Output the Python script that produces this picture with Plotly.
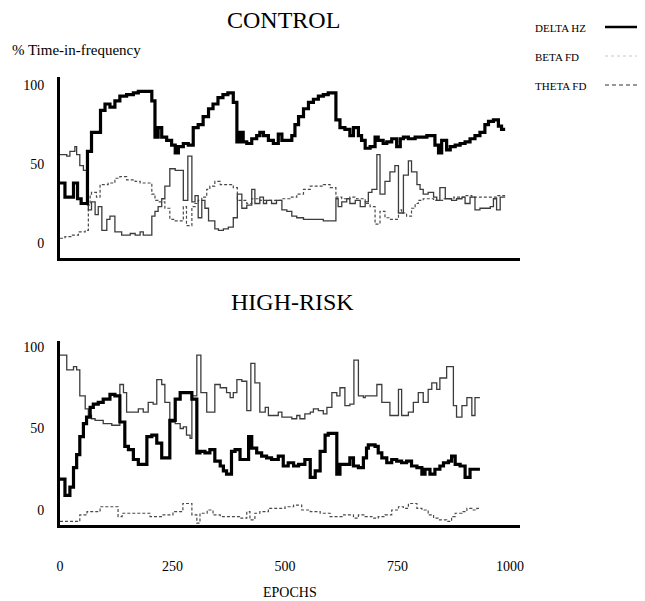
import plotly.graph_objects as go

# ---------------- data (epoch, % time-in-frequency) ----------------
EPOCH_TICKS = [0, 250, 500, 750, 1000]
PCT_TICKS = [0, 50, 100]
PANEL_TITLES = ["CONTROL", "HIGH-RISK"]
SERIES_NAMES = ["DELTA HZ", "BETA FD", "THETA FD"]

CONTROL_END = 989
HIGHRISK_END = 933

CONTROL_DELTA = [(0,38),(11,29),(30,38),(39,28),(47,25),(61,58),(70,70),(90,84),(100,88),(111,86),
    (122,90),(133,93),(148,94),(163,95),(174,96),(204,90),(211,67),(218,73),(226,67),(237,65),
    (248,62),(256,57),(263,61),(274,63),(285,62),(296,73),(307,75),(318,80),(330,85),(340,88),
    (351,92),(362,94),(373,95),(385,89),(393,64),(400,70),(407,64),(415,63),(426,66),(437,68),
    (444,70),(452,68),(463,65),(474,63),(485,69),(493,65),(515,68),(522,75),(530,80),(541,85),
    (552,89),(563,91),(574,93),(585,94),(596,95),(613,78),(622,73),(633,72),(644,68),(652,73),
    (663,68),(670,65),(678,60),(689,61),(700,67),(707,65),(718,63),(726,64),(737,66),(748,61),
    (756,66),(763,67),(774,66),(789,67),(815,68),(833,62),(841,57),(848,65),(859,59),(867,61),
    (878,62),(889,63),(900,64),(911,66),(922,68),(933,70),(944,75),(952,77),(963,78),(974,74),
    (981,72)]

CONTROL_BETA = [(0,56),(15,55),(22,58),(33,61),(37,56),(44,49),(52,46),(61,24),(63,21),(70,26),
    (78,18),(85,23),(93,8),(104,15),(111,17),(122,7),(137,5),(156,6),(167,5),(178,7),(185,5),
    (204,17),(211,20),(218,23),(226,28),(233,36),(244,47),(256,46),(274,27),(284,55),(293,26),
    (300,30),(307,16),(315,27),(322,22),(330,14),(344,9),(352,8),(363,9),(374,10),(385,16),
    (394,31),(404,22),(415,24),(426,34),(433,25),(444,29),(452,25),(459,27),(470,25),(481,27),
    (493,21),(504,20),(515,17),(526,16),(541,15),(556,15),(585,14),(613,28),(618,23),(626,26),
    (637,28),(644,25),(656,27),(667,23),(678,26),(685,32),(693,34),(704,56),(711,31),(722,39),
    (733,45),(744,49),(752,19),(763,43),(774,52),(781,45),(793,37),(800,34),(807,31),(818,32),
    (830,29),(837,27),(844,35),(856,28),(870,27),(881,28),(893,29),(900,25),(911,29),(922,21),
    (933,22),(956,23),(963,28),(970,21),(978,29)]

CONTROL_THETA = [(0,3),(11,4),(26,5),(41,7),(56,8),(63,24),(67,31),(70,32),(81,29),(89,37),
    (107,38),(122,41),(133,42),(148,40),(167,39),(178,38),(204,31),(211,27),(218,26),(233,22),
    (244,15),(256,14),(274,23),(281,11),(293,23),(300,25),(307,27),(315,29),(326,34),(333,36),
    (344,39),(356,37),(374,37),(385,35),(394,27),(415,25),(426,28),(444,27),(459,27),(493,28),
    (511,29),(526,31),(541,34),(556,36),(585,37),(600,35),(613,29),(626,28),(644,29),(659,28),
    (678,25),(689,23),(700,12),(711,20),(722,16),(733,15),(752,21),(759,19),(770,17),(781,22),
    (789,25),(796,27),(807,28),(830,27),(850,28),(875,29),(900,30),(915,29),(956,29),(970,30)]

HIGHRISK_DELTA = [(0,19),(11,9),(22,14),(30,26),(37,34),(44,45),(52,53),(59,57),(67,63),(74,65),
    (85,66),(96,68),(111,71),(122,70),(133,54),(144,39),(152,37),(163,31),(174,28),(193,45),
    (204,46),(215,41),(226,32),(244,55),(256,68),(267,72),(293,68),(304,35),(311,36),(322,35),
    (333,37),(344,30),(356,27),(363,24),(370,22),(381,36),(389,37),(400,31),(419,45),(426,38),
    (437,35),(448,33),(459,32),(470,31),(485,33),(496,27),(507,29),(519,27),(530,28),(544,31),
    (556,20),(567,24),(578,36),(589,46),(596,47),(615,22),(622,28),(644,32),(652,27),(663,26),
    (674,32),(681,38),(685,40),(700,39),(707,35),(715,32),(726,29),(737,31),(748,30),(759,29),
    (770,30),(781,27),(793,26),(804,22),(811,25),(822,22),(833,25),(844,27),(852,29),(863,30),
    (870,33),(878,28),(889,27),(900,20),(911,25)]

HIGHRISK_BETA = [(0,95),(15,86),(30,88),(37,86),(44,70),(56,62),(63,58),(70,56),(78,55),(96,53),
    (115,52),(133,77),(141,72),(148,60),(174,62),(185,60),(196,66),(207,65),(215,80),(226,77),
    (233,66),(244,54),(256,53),(267,50),(274,51),(281,46),(289,44),(293,70),(304,95),(313,72),
    (326,60),(344,77),(356,75),(370,72),(378,69),(385,72),(393,80),(404,79),(415,61),(424,90),
    (433,78),(444,60),(456,63),(463,58),(474,58),(485,60),(493,57),(515,56),(526,58),(533,56),
    (544,59),(556,60),(563,62),(574,61),(585,59),(593,63),(604,72),(615,70),(622,75),(633,64),
    (644,65),(653,92),(663,70),(674,69),(678,70),(704,77),(715,66),(733,58),(752,74),(759,58),
    (774,60),(785,66),(796,72),(807,66),(818,74),(826,78),(837,74),(844,81),(859,88),(874,64),
    (881,57),(893,64),(904,69),(915,58),(922,69)]

HIGHRISK_THETA = [(0,-7),(44,-3),(60,-1),(89,2),(129,-4),(138,-2),(200,-4),(229,-3),(251,-1),
    (273,4),(293,-3),(304,-8),(311,-2),(327,0),(340,-3),(356,-4),(400,-5),(415,-1),(422,-6),
    (433,-2),(444,-1),(463,1),(481,1),(500,2),(519,3),(537,0),(556,-1),(578,-2),(600,-4),
    (630,-3),(652,-5),(663,-3),(678,-4),(693,-5),(707,-4),(722,-3),(737,0),(752,2),(763,1),
    (774,4),(793,1),(804,0),(818,-3),(830,-5),(841,-6),(859,-7),(870,-4),(878,-2),(893,-1),
    (904,1),(915,0),(926,1)]


def steps(pairs, end):
    xs = [p[0] for p in pairs] + [end]
    ys = [p[1] for p in pairs] + [pairs[-1][1]]
    return xs, ys


SERIF = "Liberation Serif, Times New Roman, serif"
styles = {
    "DELTA HZ": dict(color="#000000", width=3.2),
    "BETA FD": dict(color="#3c3c3c", width=1.3),
    "THETA FD": dict(color="#4a4a4a", width=1.2, dash="3px,2px"),
}

fig = go.Figure()
panels = [
    ("x", "y", CONTROL_END, [("THETA FD", CONTROL_THETA), ("BETA FD", CONTROL_BETA), ("DELTA HZ", CONTROL_DELTA)]),
    ("x2", "y2", HIGHRISK_END, [("THETA FD", HIGHRISK_THETA), ("BETA FD", HIGHRISK_BETA), ("DELTA HZ", HIGHRISK_DELTA)]),
]
for xa, ya, end, series in panels:
    for name, pairs in series:
        xs, ys = steps(pairs, end)
        fig.add_trace(go.Scatter(x=xs, y=ys, mode="lines", name=name, line_shape="hv",
                                 line=styles[name], xaxis=xa, yaxis=ya, showlegend=False,
                                 hoverinfo="skip"))

# page body has an 8px margin; lay out in window pixels and subtract it
OFF = 8
W, H = 645 - OFF, 601 - OFF


def px(x):
    return (x - OFF) / W


def py(y):
    return 1 - (y - OFF) / H


XDOM = [px(60), px(520)]
axis_common = dict(showgrid=False, zeroline=False, showline=True, linecolor="black",
                   linewidth=3, ticks="", automargin=False,
                   tickfont=dict(family=SERIF, size=14, color="black"))

fig.update_layout(
    width=W, height=H, margin=dict(l=0, r=0, t=0, b=0),
    paper_bgcolor="white", plot_bgcolor="white", showlegend=False,
    xaxis=dict(domain=XDOM, range=[0, 1022], anchor="y", showticklabels=False, **axis_common),
    yaxis=dict(domain=[py(258), py(77)], range=[-9.5, 105.1], anchor="x",
               tickvals=PCT_TICKS, ticklabelstandoff=10, **axis_common),
    xaxis2=dict(domain=XDOM, range=[0, 1022], anchor="y2", tickvals=EPOCH_TICKS,
                ticklabelstandoff=26, **axis_common),
    yaxis2=dict(domain=[py(525), py(341)], range=[-9.2, 103.7], anchor="x2",
                tickvals=PCT_TICKS, ticklabelstandoff=10, **axis_common),
)


def ann(text, x, y, size, xanchor="center"):
    fig.add_annotation(text=text, x=px(x), y=py(y), xref="paper", yref="paper",
                       xanchor=xanchor, yanchor="middle", showarrow=False,
                       font=dict(family=SERIF, size=size, color="black"))


ann(PANEL_TITLES[0], 283, 20, 24)
ann(PANEL_TITLES[1], 292, 302, 24)
ann("% Time-in-frequency", 10, 50, 15, "left")
ann("EPOCHS", 290, 592, 14)

# legend (text left, line sample right)
legend_rows = [(SERIES_NAMES[0], 28, dict(color="black", width=2.5)),
               (SERIES_NAMES[1], 57, dict(color="#c8c8c8", width=1, dash="dot")),
               (SERIES_NAMES[2], 86, dict(color="#333333", width=1.2, dash="4px,3px"))]
for name, yy, ln in legend_rows:
    ann(name, 533, yy, 11, "left")
    fig.add_shape(type="line", xref="paper", yref="paper", x0=px(605), x1=px(640),
                  y0=py(yy - 1), y1=py(yy - 1), line=ln)

fig.write_html("out.html")
